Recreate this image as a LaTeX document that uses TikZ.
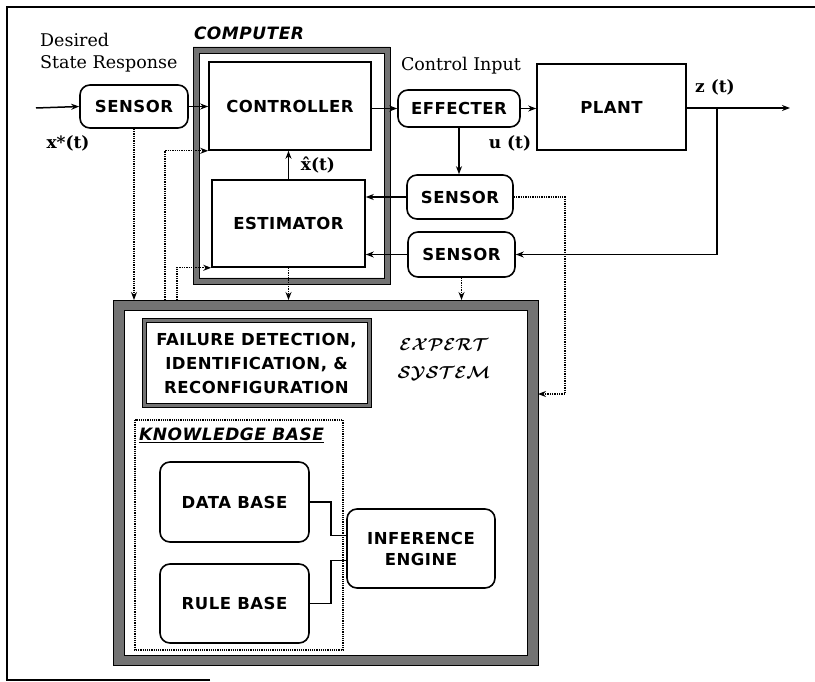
\documentclass[tikz,border=0pt]{standalone}
\usepackage{bm}
\usepackage{fontspec}
\setmainfont{DejaVu Serif}
\newfontfamily\boxf[LetterSpace=3]{DejaVu Sans}
\usetikzlibrary{arrows.meta}
\tikzset{
 box/.style={draw, line width=1.6pt, font=\boxf\bfseries\fontsize{16.5}{21}\selectfont, inner sep=0pt, align=center},
 rbox/.style={box, rounded corners=10pt},
 lab/.style={font=\fontsize{17.5}{22}\selectfont, inner sep=0pt},
 blab/.style={font=\bfseries\fontsize{17}{20}\selectfont, inner sep=0pt},
 ttl/.style={font=\boxf\bfseries\itshape\fontsize{17}{20}\selectfont, inner sep=0pt},
 arr/.style={line width=1.5pt, -{Stealth[length=8pt,width=6pt]}},
 dotarr/.style={line width=1.3pt, densely dotted, -{Stealth[length=8pt,width=6pt]}},
 plain/.style={line width=1.5pt},
 hatch/.style={fill=black!55, draw=black, line width=0.6pt, even odd rule},
 ghost/.style={inner sep=0pt, outer sep=0pt},
}
\begin{document}
\begin{tikzpicture}[x=1pt,y=-1pt]
\useasboundingbox (0,0) rectangle (815,682);
% outer frame
\draw[line width=1.2pt] (210,680) -- (7,680) -- (7,7) -- (815,7);

% computer and expert system containers
\node[ghost, minimum width=197pt, minimum height=237pt] (comp) at (291.5,165.5) {};
\node[ghost, minimum width=425pt, minimum height=365pt] (exp) at (325.5,482.5) {};
\fill[hatch] (comp.north west) rectangle (comp.south east)
  ([shift={(6,6)}]comp.north west) rectangle ([shift={(-6,-6)}]comp.south east);
\fill[hatch] (exp.north west) rectangle (exp.south east)
  ([shift={(11,10)}]exp.north west) rectangle ([shift={(-11,-10)}]exp.south east);

% boxes
\node[rbox, minimum width=108pt, minimum height=43pt] (sensA) at (134,106.5) {SENSOR};
\node[box, minimum width=162pt, minimum height=88pt] (ctrl) at (290,106) {CONTROLLER};
\node[box, minimum width=153pt, minimum height=87pt] (est) at (288.5,223.5) {ESTIMATOR};
\node[rbox, minimum width=122pt, minimum height=37pt] (eff) at (459,108.5) {EFFECTER};
\node[box, minimum width=149pt, minimum height=86pt] (plant) at (611.5,107) {PLANT};
\node[rbox, minimum width=106pt, minimum height=44pt] (sensB) at (460,197) {SENSOR};
\node[rbox, minimum width=107pt, minimum height=45pt] (sensC) at (461.5,254.5) {SENSOR};

% FDI box with hatched border
\node[ghost, minimum width=229pt, minimum height=89pt] (fdiframe) at (256.5,362.5) {};
\fill[hatch] (fdiframe.north west) rectangle (fdiframe.south east)
  ([shift={(4,4)}]fdiframe.north west) rectangle ([shift={(-4,-4)}]fdiframe.south east);
\node[box, draw=none, font=\boxf\bfseries\fontsize{16.5}{24}\selectfont] (fdi) at (256.5,363)
  {FAILURE DETECTION,\\IDENTIFICATION, \&\\RECONFIGURATION};

% knowledge base
\draw[line width=1.2pt, densely dotted] (135,420) rectangle (343,650);
\node[ttl, anchor=west] (kbl) at (139,435) {\underline{KNOWLEDGE BASE}};
\node[rbox, minimum width=149pt, minimum height=80pt] (db) at (234.5,502) {DATA BASE};
\node[rbox, minimum width=149pt, minimum height=79pt] (rb) at (234.5,603.5) {RULE BASE};
\node[rbox, minimum width=148pt, minimum height=79pt] (ie) at (421,548.5) {INFERENCE\\ENGINE};

% labels
\node[lab, anchor=west, align=left] (desired) at (40,53) {Desired\\State Response};
\node[blab] (xstar) at (68,143) {x*(t)};
\node[ttl] (complab) at (249,33) {COMPUTER};
\node[lab] (cin) at (461,66) {Control Input};
\node[blab] (ut) at (510,143) {u (t)};
\node[blab] (zt) at (715,87) {z (t)};
\node[blab] (xhat) at (318,165) {\^x(t)};
\node[inner sep=0pt, align=center, font=\fontsize{18}{28}\selectfont] (explab) at (444,359)
  {$\bm{\mathcal{EXPERT}}$\\$\bm{\mathcal{SYSTEM}}$};

% coordinates
\coordinate (in) at (36,108);
\coordinate (out) at (790,108);
\coordinate (br) at (717,108);
\coordinate (c1) at (565,394);
\coordinate (d1) at (165,300);
\coordinate (d2) at (177,300);

% solid connectors
\draw[arr] (in) -- (sensA.west);
\draw[arr] (sensA.east) -- (sensA.east -| ctrl.west);
\draw[arr] (eff.west -| ctrl.east) -- (eff.west);
\draw[arr] (eff.east) -- (eff.east -| plant.west);
\draw[arr] (plant.east |- out) -- (out);
\draw[arr] (br) |- (sensC.east);
\draw[arr] (eff.south) -- (eff.south |- sensB.north);
\draw[arr] (sensB.west) -- (sensB.west -| est.east);
\draw[arr] (sensC.west) -- (sensC.west -| est.east);
\draw[arr] (est.north) -- (est.north |- ctrl.south);

% dotted connectors
\draw[dotarr] (sensA.south) -- (sensA.south |- exp.north);
\draw[dotarr] (est.south) -- (est.south |- exp.north);
\draw[dotarr] (sensC.south) -- (sensC.south |- exp.north);
\draw[dotarr] (sensB.east) -| (c1) -- (c1 -| exp.east);
\draw[dotarr] (d1) |- (ctrl.south west);
\draw[dotarr] (d2) |- (est.south west);

% knowledge base connectors
\draw[plain] (db.east) -- ++(21,0) |- ([yshift=13pt]ie.west);
\draw[plain] (rb.east) -- ++(21,0) |- ([yshift=-12pt]ie.west);
\end{tikzpicture}
\end{document}
